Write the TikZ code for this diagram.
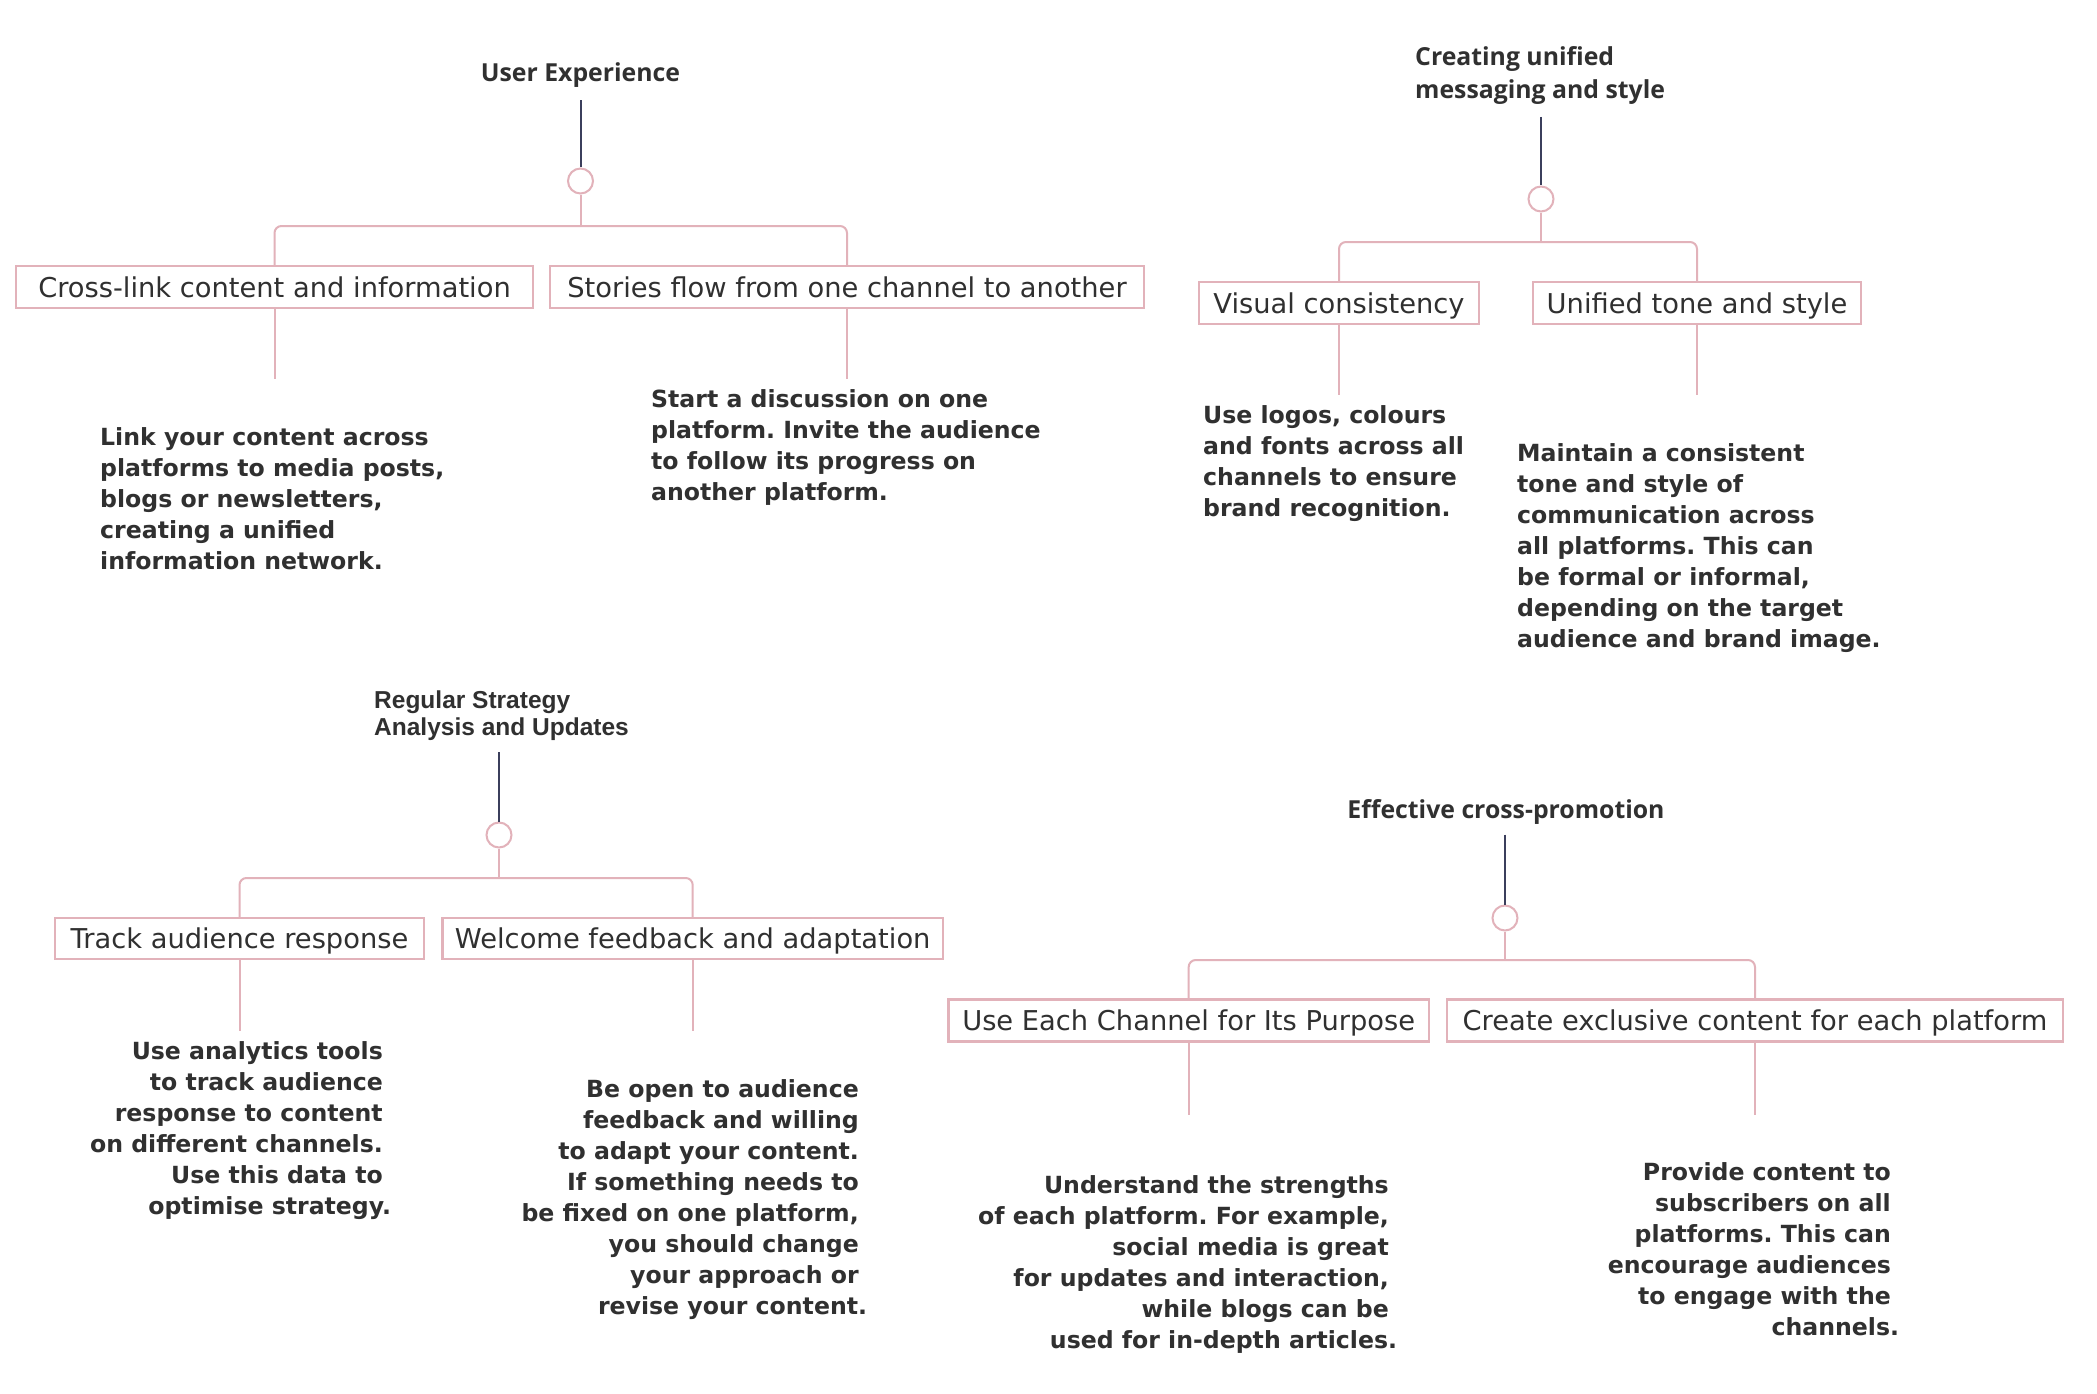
\documentclass[tikz,border=0pt]{standalone}
\usepackage{fontspec}
\setmainfont{DejaVu Sans}
\newfontfamily\arialfont{Liberation Sans}
\newfontfamily\titlefont{Open Sans}
\usetikzlibrary{calc}
\definecolor{pinkc}{HTML}{E2B2BA}
\definecolor{navyc}{HTML}{3B3F5C}
\definecolor{txtc}{HTML}{303030}
\newcommand{\lastshift}{\hspace*{-0.35em}}
\frenchspacing
\begin{document}
\begin{tikzpicture}[x=1pt,y=-1pt,
  pinkln/.style={draw=pinkc, line width=2pt},
  darkln/.style={draw=navyc, line width=2pt},
  hub/.style={circle, draw=pinkc, line width=2pt, minimum size=25pt, inner sep=0pt},
  itembox/.style={draw=pinkc, line width=2.2pt, minimum height=42pt, inner sep=0pt,
    text height=20pt, text depth=0pt, font=\fontsize{27.3}{30}\selectfont, text=txtc},
  ttl/.style={inner sep=0pt, text=txtc, font=\titlefont\fontsize{24.8}{33}\selectfont\bfseries},
  ttlarial/.style={inner sep=0pt, text=txtc, font=\arialfont\fontsize{24.5}{27.7}\selectfont\bfseries},
  desc/.style={inner sep=0pt, text=txtc, font=\fontsize{23.6}{31}\selectfont\bfseries},
]
\useasboundingbox (0,0) rectangle (2097,1394);
\fill[white] (0,0) rectangle (2097,1394);

% ---------- Tree 1: User Experience ----------
\node[ttl, anchor=base, text depth=5pt] (t1) at (580.5,82) {User Experience};
\node[hub] (c1) at (580.5,181) {};
\coordinate (j1) at (580.5,226);
\node[itembox, minimum width=517pt] (b1a) at (274.5,287) {Cross-link content and information};
\node[itembox, minimum width=594pt] (b1b) at (847,287) {Stories flow from one channel to another};
\node[desc, anchor=west, align=left] (d1a) at (100,501.5) {\strut Link your content across\\platforms to media posts,\\blogs or newsletters,\\creating a unified\\information network.\strut};
\node[desc, anchor=west, align=left] (d1b) at (651,447.6) {\strut Start a discussion on one\\platform. Invite the audience\\to follow its progress on\\another platform.\strut};
\coordinate (e1a) at ($(b1a.south)+(0,70)$);
\coordinate (e1b) at ($(b1b.south)+(0,70)$);
\draw[darkln, shorten <=13pt] (t1.south) -- (c1.north);
\draw[pinkln] (c1.south) -- (j1);
\draw[pinkln, rounded corners=7pt] (b1a.north) |- (j1) -| (b1b.north);
\draw[pinkln] (b1a.south) -- (e1a);
\draw[pinkln] (b1b.south) -- (e1b);

% ---------- Tree 2: Creating unified messaging and style ----------
\node[ttl, anchor=west, align=left] (t2) at (1415,75) {\strut Creating unified\\messaging and style\strut};
\node[hub] (c2) at (1541,199) {};
\coordinate (j2) at (1541,242);
\node[itembox, minimum width=280pt] (b2a) at (1339,303) {Visual consistency};
\node[itembox, minimum width=328pt] (b2b) at (1697,303) {Unified tone and style};
\node[desc, anchor=west, align=left] (d2a) at (1203,463.6) {\strut Use logos, colours\\and fonts across all\\channels to ensure\\brand recognition.\strut};
\node[desc, anchor=west, align=left] (d2b) at (1517,548.5) {\strut Maintain a consistent\\tone and style of\\communication across\\all platforms. This can\\be formal or informal,\\depending on the target\\audience and brand image.\strut};
\coordinate (e2a) at ($(b2a.south)+(0,70)$);
\coordinate (e2b) at ($(b2b.south)+(0,70)$);
\draw[darkln, shorten <=8.7pt] (t2.south -| c2) -- (c2.north);
\draw[pinkln] (c2.south) -- (j2);
\draw[pinkln, rounded corners=7pt] (b2a.north) |- (j2) -| (b2b.north);
\draw[pinkln] (b2a.south) -- (e2a);
\draw[pinkln] (b2b.south) -- (e2b);

% ---------- Tree 3: Regular Strategy Analysis and Updates ----------
\node[ttlarial, anchor=west, align=left] (t3) at (374,716.6) {\strut Regular Strategy\\Analysis and Updates\strut};
\node[hub] (c3) at (499,835) {};
\coordinate (j3) at (499,878);
\node[itembox, minimum width=369pt, minimum height=41pt] (b3a) at (239.5,938.5) {Track audience response};
\node[itembox, minimum width=500.5pt, minimum height=41pt] (b3b) at (692.7,938.5) {Welcome feedback and adaptation};
\node[desc, anchor=east, align=right] (d3a) at (383,1130.6) {\strut Use analytics tools\\to track audience\\response to content\\on different channels.\\Use this data to\\optimise strategy.\strut\lastshift};
\node[desc, anchor=east, align=right] (d3b) at (859,1200) {\strut Be open to audience\\feedback and willing\\to adapt your content.\\If something needs to\\be fixed on one platform,\\you should change\\your approach or\\revise your content.\strut\lastshift};
\coordinate (e3a) at ($(b3a.south)+(0,71)$);
\coordinate (e3b) at ($(b3b.south)+(0,71)$);
\draw[darkln, shorten <=7.7pt] (t3.south -| c3) -- (c3.north);
\draw[pinkln] (c3.south) -- (j3);
\draw[pinkln, rounded corners=7pt] (b3a.north) |- (j3) -| (b3b.north);
\draw[pinkln] (b3a.south) -- (e3a);
\draw[pinkln] (b3b.south) -- (e3b);

% ---------- Tree 4: Effective cross-promotion ----------
\node[ttl, anchor=base, text depth=5pt] (t4) at (1506,818.3) {Effective cross-promotion};
\node[hub] (c4) at (1505,918) {};
\coordinate (j4) at (1505,960);
\node[itembox, minimum width=480.5pt] (b4a) at (1188.7,1020.5) {Use Each Channel for Its Purpose};
\node[itembox, minimum width=616pt] (b4b) at (1755,1020.5) {Create exclusive content for each platform};
\node[desc, anchor=east, align=right] (d4a) at (1389,1264.6) {\strut Understand the strengths\\of each platform. For example,\\social media is great\\for updates and interaction,\\while blogs can be\\used for in-depth articles.\strut\lastshift};
\node[desc, anchor=east, align=right] (d4b) at (1891,1252) {\strut Provide content to\\subscribers on all\\platforms. This can\\encourage audiences\\to engage with the\\channels.\strut\lastshift};
\coordinate (e4a) at ($(b4a.south)+(0,72)$);
\coordinate (e4b) at ($(b4b.south)+(0,72)$);
\draw[darkln, shorten <=11pt] (t4.south -| c4) -- (c4.north);
\draw[pinkln] (c4.south) -- (j4);
\draw[pinkln, rounded corners=7pt] (b4a.north) |- (j4) -| (b4b.north);
\draw[pinkln] (b4a.south) -- (e4a);
\draw[pinkln] (b4b.south) -- (e4b);
\end{tikzpicture}
\end{document}
